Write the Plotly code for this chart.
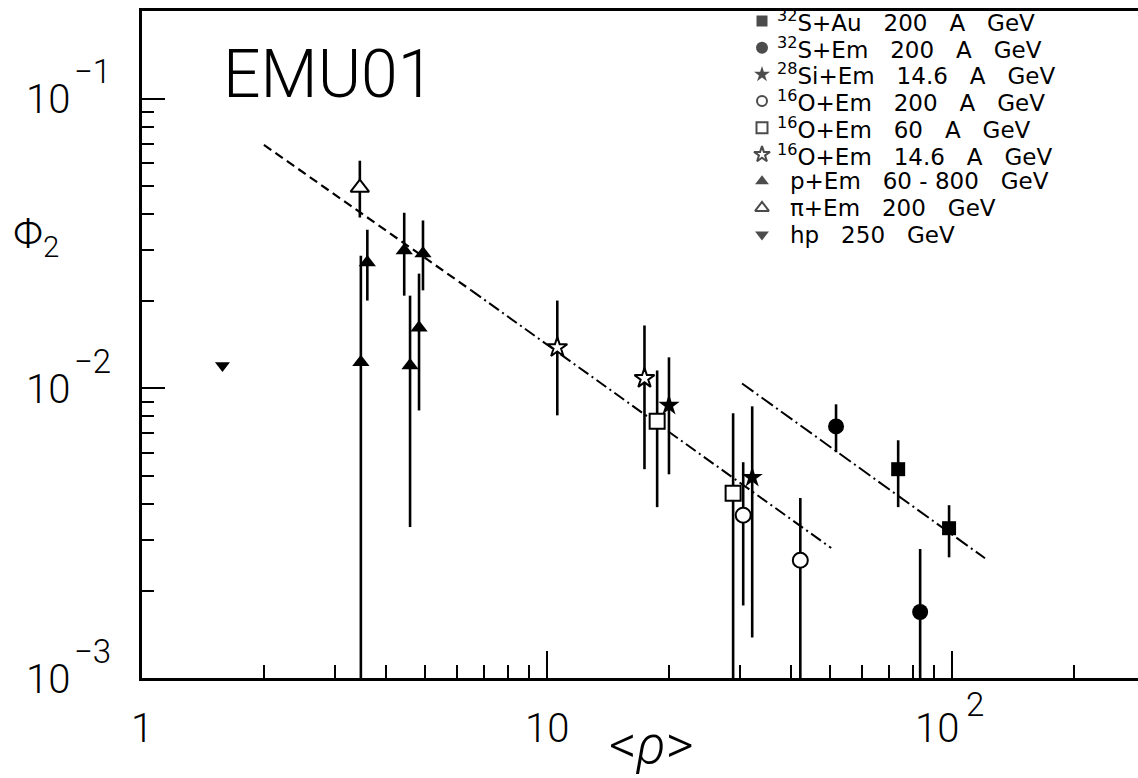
import math
import plotly.graph_objects as go

# ---------------- data ----------------
# 32S+Au 200 A GeV (filled squares)
sau_x = [73.6, 98.3]
sau_y = [0.00526, 0.00329]
sau_hi = [0.00662, 0.00395]
sau_lo = [0.00389, 0.00261]

# 32S+Em 200 A GeV (filled circles)
sem_x = [51.7, 83.4]
sem_y = [0.00739, 0.00169]
sem_hi = [0.00881, 0.00279]
sem_lo = [0.00602, 0.0001]

# 28Si+Em 14.6 A GeV (filled stars)
si_x = [20.0, 32.1]
si_y = [0.00874, 0.00493]
si_hi = [0.0128, 0.00867]
si_lo = [0.00505, 0.00138]

# 16O+Em 200 A GeV (open circles)
o200_x = [30.5, 42.2]
o200_y = [0.00365, 0.00255]
o200_hi = [0.00556, 0.00418]
o200_lo = [0.00178, 0.0001]

# 16O+Em 60 A GeV (open squares)
o60_x = [18.7, 28.8]
o60_y = [0.00770, 0.00434]
o60_hi = [0.01153, 0.0082]
o60_lo = [0.00389, 0.0001]

# 16O+Em 14.6 A GeV (open stars)
o14_x = [10.6, 17.4]
o14_y = [0.01384, 0.01083]
o14_hi = [0.0201, 0.01649]
o14_lo = [0.00807, 0.00526]

# p+Em 60 - 800 GeV (filled triangles)
p_x = [3.47, 3.60, 4.44, 4.59, 4.83, 4.94]
p_y = [0.0123, 0.0272, 0.0299, 0.0120, 0.0162, 0.0292]
p_hi = [0.0287, 0.0353, 0.0404, 0.0209, 0.0249, 0.0380]
p_lo = [0.0001, 0.0201, 0.0209, 0.00332, 0.00839, 0.0218]

# pi+Em 200 GeV (open triangle)
pi_x = [3.45]
pi_y = [0.0493]
pi_hi = [0.0611]
pi_lo = [0.0389]

# hp 250 GeV (filled down triangle)
hp_x = [1.58]
hp_y = [0.0120]

# power-law guide lines (end points and style break)
fit1_dash_x = [2.0, 6.5]
fit1_dash_y = [0.0693, 0.0218]
fit1_dot_x = [6.5, 50.3]
fit1_dot_y = [0.0218, 0.00281]
fit2_x = [30.3, 120.6]
fit2_y = [0.0104, 0.00259]

# axis ticks: labels are mantissa + (large, raised) exponent
x_major = [1, 10, 100]
x_base = ["1", "10", "10"]
x_exp = ["", "", "2"]
x_minor = [2, 3, 4, 5, 6, 7, 8, 9, 20, 30, 40, 50, 60, 70, 80, 90, 200]
y_major = [0.001, 0.01, 0.1]
y_base = ["10", "10", "10"]
y_exp = ["−3", "−2", "−1"]
y_minor = [m * d for d in (0.001, 0.01) for m in range(2, 10)]

# legend entries
S = "\u00a0\u00a0\u00a0"
legend_labels = [
    f"<sup>32</sup>S+Au{S}200{S}A{S}GeV",
    f"<sup>32</sup>S+Em{S}200{S}A{S}GeV",
    f"<sup>28</sup>Si+Em{S}14.6{S}A{S}GeV",
    f"<sup>16</sup>O+Em{S}200{S}A{S}GeV",
    f"<sup>16</sup>O+Em{S}60{S}A{S}GeV",
    f"<sup>16</sup>O+Em{S}14.6{S}A{S}GeV",
    f"p+Em{S}60\u00a0-\u00a0800{S}GeV",
    f"π+Em{S}200{S}GeV",
    f"hp{S}250{S}GeV",
]

# ---------------- layout geometry (pixels) ----------------
W, H = 1138, 778
L, R, T, B = 142, 0, 11, 100
PW, PH = W - L - R, H - T - B
XR = [0, 2.459]
YR = [-3, -0.697]
FONT = "Roboto, Liberation Sans, Arial, sans-serif"
LEG_FONT = "DejaVu Sans, Liberation Sans, sans-serif"
BLACK = "black"
TICK_SIZE = 40
EXP_SIZE = 33


def paper(px, py):
    return (px - L) / PW, (H - B - py) / PH


def xfrac(v):
    return (math.log10(v) - XR[0]) / (XR[1] - XR[0])


def yfrac(v):
    return (math.log10(v) - YR[0]) / (YR[1] - YR[0])


def errs(y, hi, lo):
    return [h - v for v, h in zip(y, hi)], [v - l for v, l in zip(y, lo)]


fig = go.Figure()

# guide lines
fig.add_trace(go.Scatter(x=fit1_dash_x, y=fit1_dash_y, mode="lines",
                         line=dict(color=BLACK, width=2.2, dash="9px,5px"),
                         showlegend=False, hoverinfo="skip"))
fig.add_trace(go.Scatter(x=fit1_dot_x, y=fit1_dot_y, mode="lines",
                         line=dict(color=BLACK, width=2, dash="12px,4px,2px,4px"),
                         showlegend=False, hoverinfo="skip"))
fig.add_trace(go.Scatter(x=fit2_x, y=fit2_y, mode="lines",
                         line=dict(color=BLACK, width=2, dash="14px,4px,2px,4px"),
                         showlegend=False, hoverinfo="skip"))


def add_points(x, y, hi, lo, symbol, size, fill, name):
    kw = {}
    if hi is not None:
        up, down = errs(y, hi, lo)
        kw["error_y"] = dict(type="data", symmetric=False, array=up, arrayminus=down,
                             color=BLACK, thickness=2.6, width=0)
    fig.add_trace(go.Scatter(
        x=x, y=y, mode="markers", name=name, showlegend=False,
        marker=dict(symbol=symbol, size=size, color=fill,
                    line=dict(color=BLACK, width=2 if fill == "white" else 0)),
        **kw))


add_points(sau_x, sau_y, sau_hi, sau_lo, "square", 14, BLACK, "32S+Au")
add_points(sem_x, sem_y, sem_hi, sem_lo, "circle", 16, BLACK, "32S+Em")
add_points(si_x, si_y, si_hi, si_lo, "star", 16, BLACK, "28Si+Em")
add_points(o200_x, o200_y, o200_hi, o200_lo, "circle", 15, "white", "16O+Em 200")
add_points(o60_x, o60_y, o60_hi, o60_lo, "square", 15, "white", "16O+Em 60")
add_points(o14_x, o14_y, o14_hi, o14_lo, "star", 15, "white", "16O+Em 14.6")
add_points(p_x, p_y, p_hi, p_lo, "triangle-up", 15, BLACK, "p+Em")
add_points(pi_x, pi_y, pi_hi, pi_lo, "triangle-up", 16, "white", "pi+Em")
add_points(hp_x, hp_y, None, None, "triangle-down", 13, BLACK, "hp")

# legend symbols on a pixel-unit overlay axis
leg_sym = ["square", "circle", "star", "circle", "square", "star",
           "triangle-up", "triangle-up", "triangle-down"]
leg_fill = [BLACK, BLACK, BLACK, "white", "white", "white", BLACK, "white", BLACK]
leg_size = [11, 12, 12, 10, 11, 12, 12, 12, 12]
leg_px = 762
leg_rows = [21 + 26.7 * i for i in range(len(legend_labels))]
fig.add_trace(go.Scatter(
    x=[leg_px] * len(leg_rows), y=leg_rows, mode="markers", xaxis="x2", yaxis="y2",
    showlegend=False, hoverinfo="skip",
    marker=dict(symbol=leg_sym, size=leg_size, color=leg_fill,
                line=dict(color=BLACK, width=[0, 0, 0, 2, 2, 2, 0, 2, 0]))))


def text(t, x, y, size, xanchor="center", family=FONT, weight=300, xshift=0, yshift=0):
    return dict(text=t, x=x, y=y, xref="paper", yref="paper", xanchor=xanchor,
                yanchor="middle", showarrow=False, xshift=xshift, yshift=yshift,
                font=dict(family=family, size=size, color=BLACK, weight=weight))


annotations = []

# x tick labels (below the axis)
for v, b, e in zip(x_major, x_base, x_exp):
    if e:
        annotations.append(text(b, xfrac(v), 0, TICK_SIZE, xshift=-15, yshift=-50))
        annotations.append(text(e, xfrac(v), 0, EXP_SIZE, xshift=23, yshift=-26))
    else:
        annotations.append(text(b, xfrac(v), 0, TICK_SIZE, yshift=-50))

# y tick labels (left of the axis)
for v, b, e in zip(y_major, y_base, y_exp):
    annotations.append(text(b, 0, yfrac(v), TICK_SIZE, xanchor="right", xshift=-70, yshift=-1))
    annotations.append(text(e, 0, yfrac(v), EXP_SIZE, xanchor="left", xshift=-70, yshift=27))

# legend text
for lab, ry in zip(legend_labels, leg_rows):
    tx = 775 if lab.startswith("<sup>") else 788
    ax_, ay_ = paper(tx, ry)
    annotations.append(text(lab, ax_, ay_, 23, xanchor="left", family=LEG_FONT, weight=400))

ex, ey = paper(328, 75)
annotations.append(text("EMU01", ex, ey, 66))
fx, fy = paper(36, 236)
annotations.append(text("Φ<sub>2</sub>", fx, fy, 42))
rx, ry = paper(651, 744)
annotations.append(text("&lt;<i>ρ</i>&gt;", rx, ry, 54))

fig.update_layout(
    width=W, height=H,
    margin=dict(l=L, r=R, t=T, b=B, autoexpand=False),
    paper_bgcolor="white", plot_bgcolor="white",
    showlegend=False,
    font=dict(family=FONT, color=BLACK),
    annotations=annotations,
    xaxis=dict(type="log", range=XR, showgrid=False, zeroline=False,
               showline=True, linecolor=BLACK, linewidth=2.5, mirror=True,
               ticks="inside", ticklen=27, tickwidth=2, tickcolor=BLACK,
               tickmode="array", tickvals=x_major, showticklabels=False,
               minor=dict(tickmode="array", tickvals=x_minor, ticks="inside",
                          ticklen=13, tickwidth=2, tickcolor=BLACK, showgrid=False)),
    yaxis=dict(type="log", range=YR, showgrid=False, zeroline=False,
               showline=True, linecolor=BLACK, linewidth=2.5, mirror=False,
               ticks="inside", ticklen=23, tickwidth=2, tickcolor=BLACK,
               tickmode="array", tickvals=y_major, showticklabels=False,
               minor=dict(tickmode="array", tickvals=y_minor, ticks="inside",
                          ticklen=12, tickwidth=2, tickcolor=BLACK, showgrid=False)),
    xaxis2=dict(overlaying="x", range=[L, W - R], visible=False, fixedrange=True),
    yaxis2=dict(overlaying="y", range=[H - B, T], visible=False, fixedrange=True),
)

fig.write_html("out.html")
